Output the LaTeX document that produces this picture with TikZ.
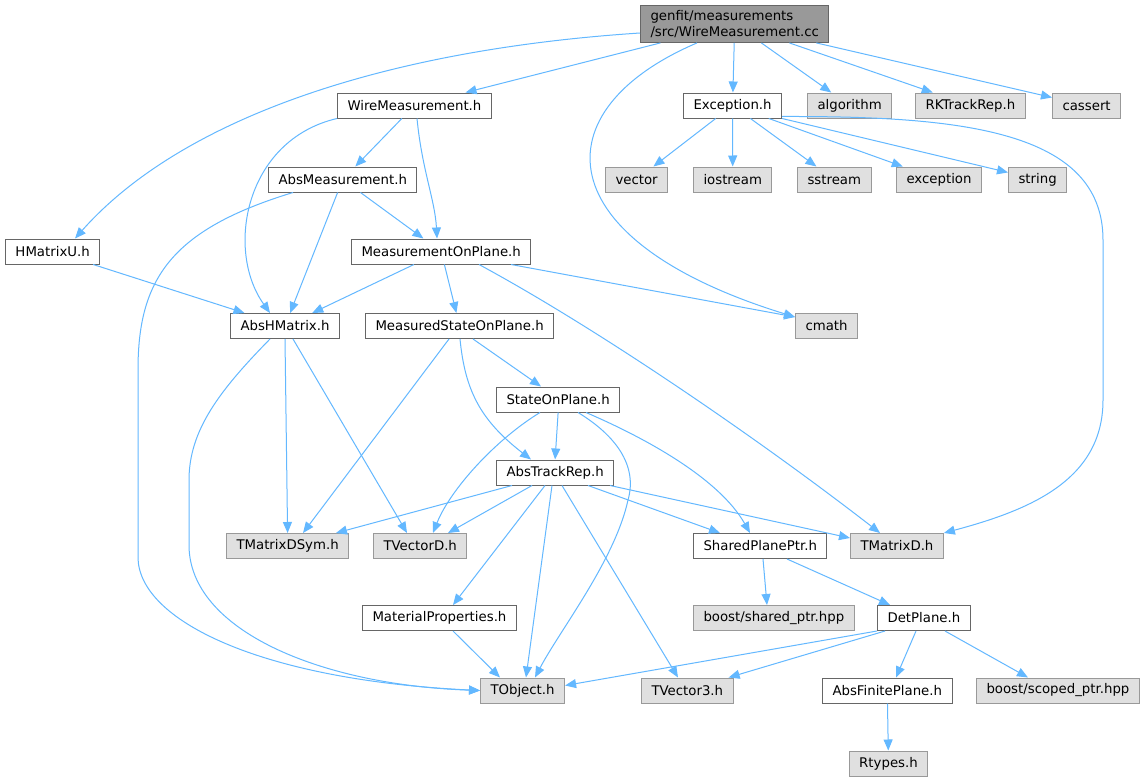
\documentclass[tikz,border=0pt]{standalone}
\usepackage{fontspec}
\setmainfont{DejaVu Sans}
\usepackage{tikz}
\usepackage{color}
\usetikzlibrary{arrows.meta}
\definecolor{edgeblue}{HTML}{63B8FF}
\definecolor{darkframe}{HTML}{666666}
\definecolor{lightframe}{HTML}{999999}
\definecolor{sysfill}{HTML}{E0E0E0}
\definecolor{mainfill}{HTML}{999999}

\begin{document}
\begin{tikzpicture}
	[x=1pt, y=-1pt,
	file_node/.style={rectangle, draw=darkframe, fill=white, line width=1pt, inner xsep=10pt, inner ysep=5pt, minimum height=25pt, font=\fontsize{13.3}{15.5}\selectfont, text=black},
	sys_node/.style={file_node, draw=lightframe, fill=sysfill},
	main_node/.style={file_node, fill=mainfill},
	edge_style/.style={draw=edgeblue, line width=1pt, -{Triangle[length=11pt,width=9pt]}}]
	\fill[white] (0,0) rectangle (1143,784);
	\useasboundingbox (0,0) rectangle (1143,784);

	\node[main_node, anchor=west, align=left] (cc) at (640,24) {genfit/measurements\\/src/WireMeasurement.cc};

	\node[file_node, anchor=west] (wmh) at (337,105.5) {WireMeasurement.h};
	\node[file_node, anchor=west] (exc) at (683,105.5) {Exception.h};
	\node[sys_node, anchor=west] (algo) at (807,105.5) {algorithm};
	\node[sys_node, anchor=west] (rktr) at (915,105.5) {RKTrackRep.h};
	\node[sys_node, anchor=west] (cass) at (1052,105.5) {cassert};

	\node[file_node, anchor=west] (absm) at (268,179.5) {AbsMeasurement.h};
	\node[sys_node, anchor=west] (vect) at (605,179.5) {vector};
	\node[sys_node, anchor=west] (iost) at (693,179.5) {iostream};
	\node[sys_node, anchor=west] (sstr) at (797,179.5) {sstream};
	\node[sys_node, anchor=west] (excp) at (896,179.5) {exception};
	\node[sys_node, anchor=west] (strg) at (1008,179.5) {string};

	\node[file_node, anchor=west] (hmu) at (5,251.5) {HMatrixU.h};
	\node[file_node, anchor=west] (mop) at (351,251.5) {MeasurementOnPlane.h};

	\node[file_node, anchor=west] (ahm) at (230,326) {AbsHMatrix.h};
	\node[file_node, anchor=west] (msop) at (365,326) {MeasuredStateOnPlane.h};
	\node[sys_node, anchor=west] (cmath) at (795,326) {cmath};

	\node[file_node, anchor=west] (sop) at (496,399.5) {StateOnPlane.h};
	\node[file_node, anchor=west] (atr) at (496,472.5) {AbsTrackRep.h};

	\node[sys_node, anchor=west] (tmds) at (226,546) {TMatrixDSym.h};
	\node[sys_node, anchor=west] (tvd) at (373,546) {TVectorD.h};
	\node[file_node, anchor=west] (spp) at (693,546) {SharedPlanePtr.h};
	\node[sys_node, anchor=west] (tmd) at (850,546) {TMatrixD.h};

	\node[file_node, anchor=west] (matp) at (362,618) {MaterialProperties.h};
	\node[sys_node, anchor=west] (bsp) at (693,618) {boost/shared\_ptr.hpp};
	\node[file_node, anchor=west] (detp) at (877,618) {DetPlane.h};

	\node[sys_node, anchor=west] (tobj) at (480,690.5) {TObject.h};
	\node[sys_node, anchor=west] (tv3) at (641,690.5) {TVector3.h};
	\node[file_node, anchor=west] (afp) at (822,690.5) {AbsFinitePlane.h};
	\node[sys_node, anchor=west] (bscp) at (976,690.5) {boost/scoped\_ptr.hpp};

	\node[sys_node] (rty) at (888.5,763.5) {Rtypes.h};

	\draw[edge_style] ([yshift=-9pt]cc.west) .. controls (380,50) and (180,120) .. ([xshift=70pt]hmu.north west);
	\draw[edge_style] (cc) -- (wmh);
	\draw[edge_style] ([xshift=57pt]cc.south west) .. controls (540,110) and (545,240) .. ([yshift=-4pt]cmath.north west);
	\draw[edge_style] (cc) -- (exc);
	\draw[edge_style] (cc) -- (algo);
	\draw[edge_style] (cc) -- (rktr);
	\draw[edge_style] (cc) -- (cass);

	\draw[edge_style] (wmh) -- (absm);
	\draw[edge_style] ([xshift=80pt]wmh.south west) .. controls (422,170) and (435,200) .. ([xshift=86pt]mop.north west);
	\draw[edge_style] (wmh.south west) .. controls (245,140) and (225,250) .. ([xshift=40pt]ahm.north west);

	\draw[edge_style] (exc) -- (vect);
	\draw[edge_style] (exc) -- (iost);
	\draw[edge_style] (exc) -- (sstr);
	\draw[edge_style] (exc) -- (excp);
	\draw[edge_style] (exc.south east) -- (strg);
	\draw[edge_style] ([yshift=2pt]exc.south east) .. controls (960,116) and (1103,130) .. (1103,240)
		-- (1103,400) .. controls (1103,480) and (1030,510) .. (tmd.north east);

	\draw[edge_style] (absm) -- (ahm);
	\draw[edge_style] (absm) -- (mop);
	\draw[edge_style] ([xshift=25pt]absm.south west) .. controls (170,230) and (138,280) .. (138,370)
		-- (138,557) .. controls (138,620) and (260,680) .. (tobj.west);

	\draw[edge_style] (hmu) -- (ahm);

	\draw[edge_style] (mop) -- (ahm);
	\draw[edge_style] (mop) -- (msop);
	\draw[edge_style] ([xshift=160pt]mop.south west) -- ([yshift=-4pt]cmath.north west);
	\draw[edge_style] ([xshift=128pt]mop.south west) .. controls (600,330) and (760,440) .. ([xshift=30pt]tmd.north west);

	\draw[edge_style] (ahm.south) -- (tmds.north);
	\draw[edge_style] ([xshift=63pt]ahm.south west) -- ([xshift=34pt]tvd.north west);
	\draw[edge_style] ([xshift=40pt]ahm.south west) .. controls (220,390) and (189,430) .. (189,480)
		-- (189,545) .. controls (189,630) and (320,685) .. (tobj.west);

	\draw[edge_style] ([xshift=84pt]msop.south west) -- ([xshift=77pt]tmds.north west);
	\draw[edge_style] ([xshift=108pt]msop.south west) -- ([xshift=45pt]sop.north west);
	\draw[edge_style] ([xshift=95pt]msop.south west) .. controls (465,390) and (480,420) .. ([xshift=35pt]atr.north west);

	\draw[edge_style] (sop.south) -- (atr.north);
	\draw[edge_style] ([xshift=44pt]sop.south west) .. controls (495,440) and (450,490) .. ([xshift=60pt]tvd.north west);
	\draw[edge_style] ([xshift=82pt]sop.south west) .. controls (615,435) and (638,465) .. (628,500)
		.. controls (615,560) and (560,630) .. ([xshift=55pt]tobj.north west);
	\draw[edge_style] ([xshift=90pt]sop.south west) .. controls (650,440) and (720,480) .. ([xshift=57pt]spp.north west);

	\draw[edge_style] ([xshift=16pt]atr.south west) -- ([xshift=110pt]tmds.north west);
	\draw[edge_style] ([xshift=36pt]atr.south west) -- ([xshift=75pt]tvd.north west);
	\draw[edge_style] ([xshift=49pt]atr.south west) -- ([xshift=91pt]matp.north west);
	\draw[edge_style] ([xshift=56pt]atr.south west) -- ([xshift=46pt]tobj.north west);
	\draw[edge_style] ([xshift=66pt]atr.south west) -- ([xshift=37pt]tv3.north west);
	\draw[edge_style] ([xshift=92pt]atr.south west) -- ([xshift=27pt]spp.north west);
	\draw[edge_style] ([xshift=114pt]atr.south west) -- ([yshift=-5pt]tmd.north west);

	\draw[edge_style] ([xshift=91pt]matp.south west) -- ([xshift=20pt]tobj.north west);

	\draw[edge_style] ([xshift=70pt]spp.south west) -- ([xshift=74pt]bsp.north west);
	\draw[edge_style] ([xshift=94pt]spp.south west) -- ([xshift=13pt]detp.north west);

	\draw[edge_style] (detp.south west) -- ([yshift=5pt]tobj.east);
	\draw[edge_style] ([xshift=8pt]detp.south west) -- ([xshift=-5pt]tv3.north east);
	\draw[edge_style] ([xshift=39pt]detp.south west) -- ([xshift=74pt]afp.north west);
	\draw[edge_style] ([xshift=68pt]detp.south west) -- ([xshift=52pt]bscp.north west);

	\draw[edge_style] (afp) -- (rty);
\end{tikzpicture}
\end{document}
